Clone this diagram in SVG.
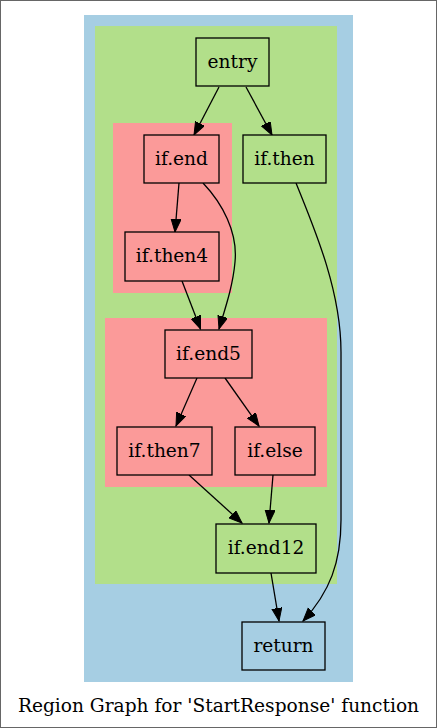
<svg xmlns="http://www.w3.org/2000/svg" width="437" height="728" viewBox="0 0 437 728">
<style>
.n{stroke:#000;stroke-width:1.3}
.t{font-family:"DejaVu Serif",serif;font-size:18.6px;fill:#000;text-anchor:middle}
.e{fill:none;stroke:#000;stroke-width:1.3;marker-end:url(#ah)}
</style>
<defs>
<marker id="ah" markerUnits="userSpaceOnUse" markerWidth="14" markerHeight="11" refX="13" refY="5" orient="auto">
<path d="M0,0 L13,5 L0,10 z" fill="#000" stroke="#000" stroke-width="1"/>
</marker>
</defs>
<rect x="0.5" y="0.5" width="436" height="727" fill="#fff" stroke="#666" stroke-width="1"/>
<g id="clusters">
<rect x="84" y="15" width="269" height="667" fill="#a6cee3"/>
<rect x="95" y="26" width="242" height="558" fill="#b2df8a"/>
<rect x="113" y="123" width="119" height="170" fill="#fb9a99"/>
<rect x="105" y="318" width="222" height="169" fill="#fb9a99"/>
</g>
<g id="edges">
<path class="e" d="M219,87 L194,135"/>
<path class="e" d="M246,87 L272,135"/>
<path class="e" d="M179,183 L175,232"/>
<path class="e" d="M203,183 C222,203 238,232 235,262 C233,285 226,306 219,329"/>
<path class="e" d="M182,281 L200.5,329"/>
<path class="e" d="M296,183 C316,232 341,292 341,352 L341,520 C341,562 330,592 303,621"/>
<path class="e" d="M197,378 L176,426"/>
<path class="e" d="M225,378 L259,426"/>
<path class="e" d="M189,475 L242,523"/>
<path class="e" d="M273,475 L269,523"/>
<path class="e" d="M271,573 L279,621"/>
</g>
<g id="entry"><rect class="n" x="196" y="38" width="73" height="48" fill="#b2df8a"/><text class="t" x="232.5" y="68">entry</text></g>
<g id="if.end"><rect class="n" x="144" y="135" width="75" height="48" fill="#fb9a99"/><text class="t" x="181.5" y="165">if.end</text></g>
<g id="if.then"><rect class="n" x="243" y="135" width="83" height="48" fill="#b2df8a"/><text class="t" x="284.5" y="165">if.then</text></g>
<g id="if.then4"><rect class="n" x="125" y="232" width="94" height="49" fill="#fb9a99"/><text class="t" x="172" y="262">if.then4</text></g>
<g id="if.end5"><rect class="n" x="165" y="330" width="87" height="48" fill="#fb9a99"/><text class="t" x="208.5" y="360">if.end5</text></g>
<g id="if.then7"><rect class="n" x="117" y="427" width="95" height="48" fill="#fb9a99"/><text class="t" x="164.5" y="457">if.then7</text></g>
<g id="if.else"><rect class="n" x="235" y="427" width="80" height="48" fill="#fb9a99"/><text class="t" x="275" y="457">if.else</text></g>
<g id="if.end12"><rect class="n" x="216" y="524" width="100" height="49" fill="#b2df8a"/><text class="t" x="266" y="554">if.end12</text></g>
<g id="return"><rect class="n" x="242" y="622" width="83" height="48" fill="#a6cee3"/><text class="t" x="283.5" y="652">return</text></g>
<text class="t" x="218.5" y="712">Region Graph for 'StartResponse' function</text>
</svg>
